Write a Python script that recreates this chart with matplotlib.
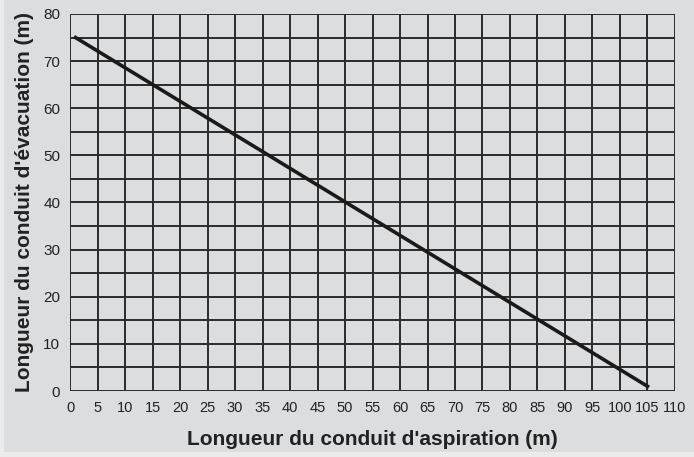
import numpy as np
import matplotlib.pyplot as plt
from matplotlib.patches import Rectangle

# Abaque longueur aspiration / évacuation
aspiration = [1, 105]
evacuation = [75, 1]

x_ticks = list(range(0, 111, 5))
y_ticks = list(range(0, 81, 10))
y_grid = list(range(0, 81, 5))

bg = '#dcdddf'
plt.rcParams['font.family'] = ['Liberation Sans', 'DejaVu Sans']

fig = plt.figure(figsize=(6.94, 4.57), dpi=100, facecolor='#ebebec')
# grey panel, with a thin light margin left and bottom
fig.patches.append(Rectangle((4 / 694, 5 / 457), 1, 1, transform=fig.transFigure,
                             facecolor=bg, edgecolor='none', zorder=-5))

ax = fig.add_axes([0.1009, 0.1444, 0.8717, 0.825])
ax.set_facecolor(bg)

ax.set_xlim(0, 110)
ax.set_ylim(0, 80)

for xv in x_ticks:
    ax.axvline(xv, color='#2b2b2b', lw=1.4, zorder=1)
for yv in y_grid:
    ax.axhline(yv, color='#2b2b2b', lw=1.4, zorder=1)

ax.plot(aspiration, evacuation, color='#1a1a1a', lw=2.6, zorder=3)

for s in ax.spines.values():
    s.set_visible(False)

ax.set_xticks(x_ticks)
ax.set_yticks(y_ticks)
ax.tick_params(length=0, colors='#222222')
ax.tick_params(axis='x', labelsize=10.5, pad=7)
ax.tick_params(axis='y', labelsize=11, pad=7)

ax.set_xlabel("Longueur du conduit d'aspiration (m)", fontsize=15,
              fontweight='bold', color='#222222', labelpad=11)
ax.set_ylabel("Longueur du conduit d'évacuation (m)", fontsize=15,
              fontweight='bold', color='#222222', labelpad=7)

fig.savefig('out.png', dpi=100, facecolor=fig.get_facecolor())
